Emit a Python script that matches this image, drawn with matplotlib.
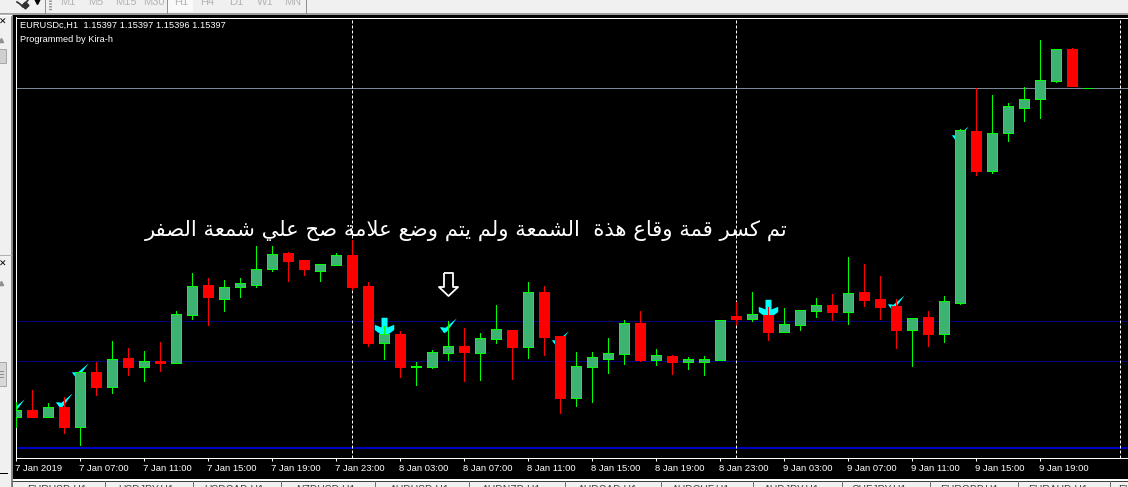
import unicodedata

import matplotlib
matplotlib.use("Agg")
import matplotlib.pyplot as plt
from matplotlib.patches import Rectangle
from matplotlib.transforms import ScaledTranslation
import numpy as np

# ------------------------------------------------------
# Chart values, EURUSDc H1 (prices in 1/100000)
# ------------------------------------------------------
opens = [114573, 114592, 114575, 114599, 114550, 114686, 114650, 114722, 114700, 114714,
         114708, 114830, 114904, 114870, 114898, 114905, 114945, 114984, 114967, 114940,
         114955, 114979, 114902, 114760, 114782, 114699, 114699, 114734, 114752, 114734,
         114769, 114792, 114749, 114887, 114777, 114622, 114699, 114719, 114732, 114809,
         114717, 114727, 114712, 114712, 114717, 114827, 114819, 114829, 114787, 114804,
         114839, 114854, 114837, 114887, 114869, 114852, 114792, 114824, 114782, 114860,
         115289, 115189, 115284, 115347, 115369, 115414, 115494, 115397]
highs = [114611, 114642, 114609, 114624, 114686, 114712, 114764, 114747, 114739, 114762,
         114839, 114934, 114922, 114917, 114922, 115002, 115002, 114987, 114967, 114957,
         114984, 115017, 114912, 114802, 114789, 114712, 114742, 114814, 114797, 114784,
         114854, 114792, 114912, 114902, 114777, 114737, 114737, 114772, 114817, 114839,
         114744, 114729, 114724, 114727, 114817, 114862, 114887, 114849, 114847, 114842,
         114872, 114882, 114974, 114957, 114927, 114869, 114822, 114839, 114877, 115294,
         115397, 115379, 115359, 115399, 115517, 115494, 115497, 115397]
lows = [114548, 114573, 114573, 114535, 114505, 114628, 114635, 114678, 114663, 114688,
        114708, 114818, 114804, 114838, 114875, 114899, 114938, 114914, 114930, 114914,
        114955, 114894, 114752, 114719, 114673, 114654, 114697, 114717, 114664, 114667,
        114759, 114669, 114722, 114729, 114584, 114602, 114612, 114684, 114707, 114714,
        114704, 114682, 114694, 114679, 114717, 114807, 114814, 114767, 114787, 114792,
        114824, 114817, 114807, 114852, 114819, 114747, 114702, 114752, 114762, 114857,
        115179, 115184, 115264, 115314, 115322, 115412, 115402, 115397]
closes = [114592, 114575, 114599, 114550, 114686, 114650, 114719, 114700, 114714, 114708,
          114832, 114902, 114873, 114899, 114909, 114944, 114982, 114963, 114945, 114957,
          114979, 114899, 114759, 114782, 114699, 114702, 114737, 114752, 114737, 114772,
          114794, 114749, 114887, 114774, 114622, 114702, 114724, 114734, 114809, 114717,
          114729, 114712, 114719, 114719, 114817, 114819, 114832, 114787, 114807, 114842,
          114854, 114837, 114884, 114867, 114849, 114792, 114822, 114782, 114864, 115292,
          115189, 115284, 115352, 115369, 115417, 115494, 115402, 115397]

tick_bars = list(range(0, 68, 4))
tick_labels = ["7 Jan 2019", "7 Jan 07:00", "7 Jan 11:00", "7 Jan 15:00", "7 Jan 19:00", "7 Jan 23:00",
               "8 Jan 03:00", "8 Jan 07:00", "8 Jan 11:00", "8 Jan 15:00", "8 Jan 19:00", "8 Jan 23:00",
               "9 Jan 03:00", "9 Jan 07:00", "9 Jan 11:00", "9 Jan 15:00", "9 Jan 19:00"]

separator_bars = [21, 45, 69]
grid_prices = [114815, 114715]
blue_line_price = 114496
bid_price = 115397

check_bars = [0, 3, 4, 27, 34, 55, 59]
check_prices = [114602, 114616, 114692, 114805, 114771, 114861, 115284]
arrow_bars = [23, 47]
arrow_prices = [114800, 114845]
note_arrow_bar = 27
note_arrow_price = 114906

title_line = "EURUSDc,H1  1.15397 1.15397 1.15396 1.15397"
credit_line = "Programmed by Kira-h"
note_text = "تم كسر قمة وقاع هذة  الشمعة ولم يتم وضع علامة صح علي شمعة الصفر"

period_labels = ["M1", "M5", "M15", "M30", "H1", "H4", "D1", "W1", "MN"]
period_x = [60, 88, 115, 143, 174, 200, 229, 257, 284]
tab_labels = ["EURUSD,H1", "USDJPY,H1", "USDCAD,H1", "NZDUSD,H1", "AUDUSD,H1", "AUDNZD,H1", "AUDCAD,H1",
              "AUDCHF,H1", "AUDJPY,H1", "CHFJPY,H1", "EURGBP,H1", "EURAUD,H1", "EURCAD,H1"]
tab_x = [27, 118, 204, 296, 390, 482, 578, 672, 764, 852, 940, 1028, 1118]
tab_edges = [12, 105, 193, 281, 375, 469, 565, 661, 753, 842, 930, 1018, 1110]

# Colours of the terminal
BODY_GREEN = "#3CB371"
LIME = "#00FF00"
RED = "#FF0000"
CYAN = "#00FFFF"
PANEL = "#F0F0F0"
UI_FONT = ["Liberation Sans", "DejaVu Sans"]

PX = 0.72  # one pixel in points at dpi 100


def shape_arabic(text):
    """matplotlib does no Arabic shaping: pick the presentation forms and put them in visual order"""
    right_only = set("اأإآدذرزوةى")
    letters = text.replace("لا", "\ufefb")
    out = []
    for i, ch in enumerate(letters):
        if ch == " ":
            out.append(ch)
            continue
        prev = letters[i - 1] if i > 0 else " "
        nxt = letters[i + 1] if i + 1 < len(letters) else " "
        joins_prev = prev != " " and prev not in right_only and prev != "\ufefb"
        joins_next = nxt != " " and ch not in right_only and ch != "\ufefb"
        if ch == "\ufefb":
            out.append("\ufefc" if joins_prev else ch)
            continue
        if joins_prev and joins_next:
            form = "MEDIAL"
        elif joins_prev:
            form = "FINAL"
        elif joins_next:
            form = "INITIAL"
        else:
            form = "ISOLATED"
        out.append(unicodedata.lookup(f"{unicodedata.name(ch)} {form} FORM"))
    return "".join(reversed(out))


def draw_window(ui):
    """Terminal chrome around the chart, in screen pixels"""
    ui.add_patch(Rectangle((0, 0), 1128, 487, color=PANEL, lw=0))
    ui.add_patch(Rectangle((13, 14.5), 1115, 465, color="black", lw=0))
    ui.add_patch(Rectangle((11, 14), 2, 473, color="#8A8A8A", lw=0))
    ui.add_patch(Rectangle((0, 13), 1128, 1.5, color="#A0A0A0", lw=0))
    ui.add_patch(Rectangle((13, 479), 1115, 1.5, color="white", lw=0))
    ui.add_patch(Rectangle((13, 480.5), 1115, 1, color="#404040", lw=0))

    # toolbar
    ui.add_patch(Rectangle((168, 0), 25, 11.5, color="#FAFAFA", lw=0))
    ui.plot([17, 20, 23, 28], [2, 4, 7, 0], color="#303030", lw=1.2)
    ui.plot([25], [5], marker="D", ms=3.5, color="#303030")
    ui.plot([37], [1], marker="v", ms=4, color="black")
    for x in [45, 167, 306]:
        ui.plot([x, x], [0, 13], color="#909090", lw=PX)
    ui.plot([50, 50], [0, 10], color="#909090", lw=2, ls=(0, (0.5, 0.5)))
    for label, x in zip(period_labels, period_x):
        ui.text(x, 5, label, color="#B4B4B4", fontsize=8, va="baseline", family=UI_FONT)

    # left panel
    for y_x in [22, 264]:
        ui.text(2.5, y_x, "✕", color="black", fontsize=6.5, ha="center", va="center",
                fontweight="bold", family="DejaVu Sans")
    for y_tri in [40, 283]:
        ui.plot([1], [y_tri], marker="^", ms=3, color="#909090")
    ui.add_patch(Rectangle((-1, 49), 7, 14, fc="#D0D0D0", ec="#A8A8A8", lw=PX))
    ui.add_patch(Rectangle((-1, 362), 7, 24, fc="#D8D8D8", ec="#A8A8A8", lw=PX))
    for y_grip in [371, 374, 377]:
        ui.plot([0, 3], [y_grip, y_grip], color="#909090", lw=PX)
    ui.plot([0, 11], [14.5, 14.5], color="white", lw=1)
    ui.plot([0, 11], [254.5, 254.5], color="#B0B0B0", lw=PX)
    ui.plot([0, 7], [473, 473], color="black", lw=PX)

    # symbol tabs along the bottom, cut off by the screenshot
    for x in tab_edges:
        ui.plot([x, x], [481, 487], color="#707070", lw=PX)
    for label, x in zip(tab_labels, tab_x):
        ui.text(x, 493, label, color="#404040", fontsize=7.5, va="baseline", family=UI_FONT)


def draw_candles(ax, o, h, l, c):
    bars = np.arange(len(o))
    up = c >= o
    # wicks
    ax.vlines(bars[up], l[up], h[up], color=LIME, lw=PX, zorder=3, antialiased=False)
    ax.vlines(bars[~up], l[~up], h[~up], color=RED, lw=PX, zorder=3, antialiased=False)
    # bodies
    ax.bar(bars[up], (c - o)[up], bottom=o[up], width=0.625, color=BODY_GREEN, edgecolor=LIME,
           linewidth=PX, zorder=4, antialiased=False)
    ax.bar(bars[~up], (o - c)[~up], bottom=c[~up], width=0.625, color=RED, edgecolor=RED,
           linewidth=PX, zorder=4, antialiased=False)


def main():
    fig = plt.figure(figsize=(11.28, 4.87), dpi=100, facecolor=PANEL)

    ui = fig.add_axes([0, 0, 1, 1], zorder=0)
    ui.set_xlim(0, 1128)
    ui.set_ylim(487, 0)
    ui.axis("off")
    draw_window(ui)

    ax = fig.add_axes([16 / 1128, 29.5 / 487, 1112 / 1128, 440 / 487], zorder=1, facecolor="black")
    ax.set_xlim(-0.03, 69.47)
    ax.set_ylim(114473, 115573)

    for price in grid_prices:
        ax.axhline(price, color="#000080", lw=PX, zorder=1)
    ax.axhline(blue_line_price, color="#0000FF", lw=1.1, zorder=1)
    ax.axhline(bid_price, color="#778899", lw=PX, zorder=1)
    for bar in separator_bars:
        ax.axvline(bar, color="white", lw=PX, ls=(0, (3, 2)), zorder=2)

    # tick signs and arrows sit under the candles
    check = [(-8.7, -1.8), (-5.8, -1.8), (-3.2, -2.4), (8.3, 7.2), (-1.5, -6), (-4.3, -7.8), (-8.7, -1.8)]
    ax.plot(check_bars, check_prices, ls="none", marker=check, ms=12.5, color=CYAN, mew=0, zorder=2.5)
    arrow = [(-3, 9.7), (3, 9.7), (3, 0), (9.7, 2.7), (9.7, -2.5), (0, -9.7), (-9.7, -2.5), (-9.7, 2.7), (-3, 0),
             (-3, 9.7)]
    ax.plot(arrow_bars, arrow_prices, ls="none", marker=arrow, ms=14, color=CYAN, mew=0, zorder=2.5)

    draw_candles(ax, np.array(opens), np.array(highs), np.array(lows), np.array(closes))

    note_arrow = [(-4.5, 11.5), (4.5, 11.5), (4.5, -2.5), (9.5, -2.5), (0, -11.5), (-9.5, -2.5), (-4.5, -2.5),
                  (-4.5, 11.5)]
    ax.plot([note_arrow_bar], [note_arrow_price], ls="none", marker=note_arrow, ms=16.6,
            mfc="black", mec="white", mew=1.3, zorder=6)

    ax.set_xticks(tick_bars)
    ax.set_xticklabels(tick_labels, fontsize=6.8, color="white", family=UI_FONT, ha="left")
    ax.set_yticks([])
    ax.tick_params(axis="x", length=2.2, width=PX, color="white", pad=2.5)
    offset = ScaledTranslation(-1 / 100, 0, fig.dpi_scale_trans)
    for label in ax.get_xticklabels():
        label.set_transform(label.get_transform() + offset)
    for side in ["top", "left", "bottom"]:
        ax.spines[side].set_color("white")
        ax.spines[side].set_linewidth(PX)
    ax.spines["right"].set_visible(False)

    # header and note go on a top layer so that they stay above the candles
    top = fig.add_axes([0, 0, 1, 1], zorder=2, facecolor="none")
    top.set_xlim(0, 1128)
    top.set_ylim(487, 0)
    top.axis("off")
    top.text(20, 25.5, title_line, color="white", fontsize=6.7, va="center", family=UI_FONT)
    top.text(20, 39, credit_line, color="white", fontsize=6.7, va="center", family=UI_FONT)
    top.text(788, 230, shape_arabic(note_text), color="white", fontsize=15.2, ha="right", va="center",
             family="DejaVu Sans")

    fig.savefig("out.png", dpi=100, facecolor=fig.get_facecolor())


if __name__ == "__main__":
    main()
